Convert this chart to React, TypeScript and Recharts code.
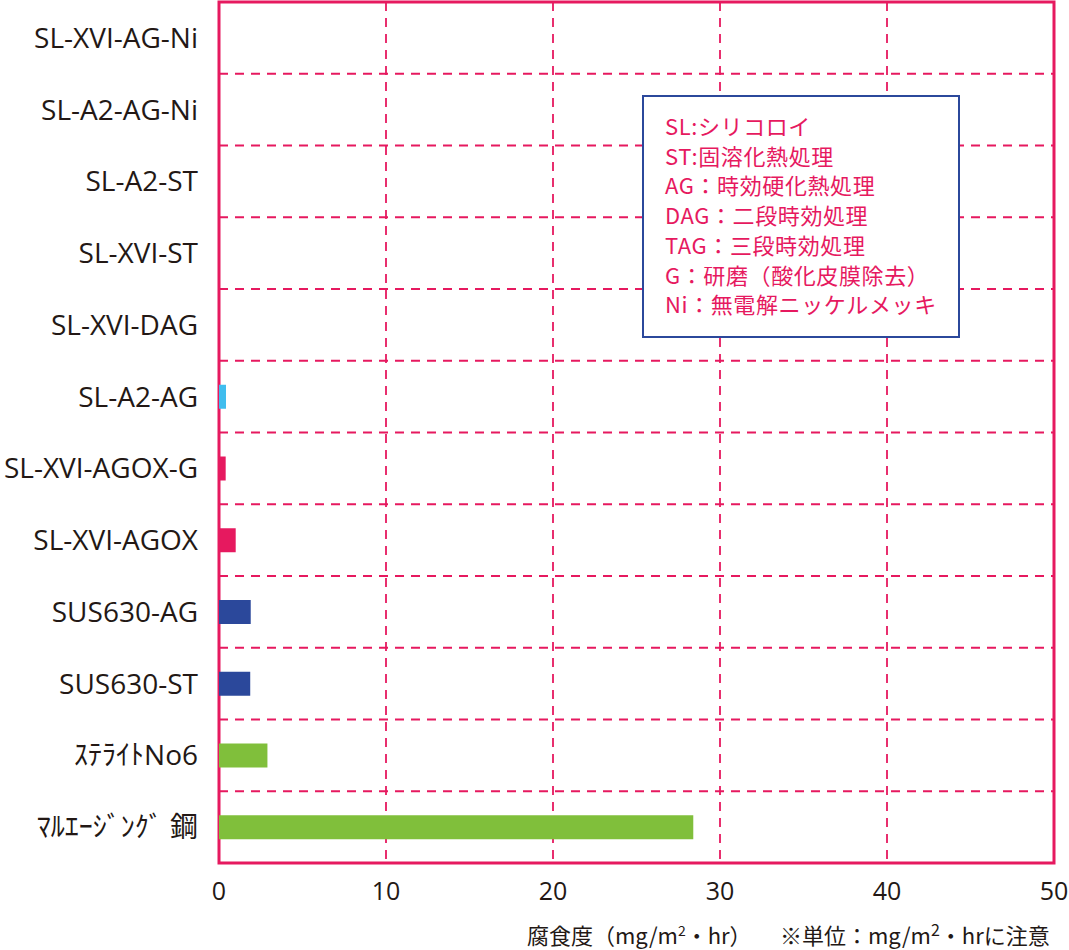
import React from 'react';
import { BarChart, Bar, XAxis, YAxis, CartesianGrid, Cell, ReferenceArea } from 'recharts';

const categories = [
  'SL-XVI-AG-Ni',
  'SL-A2-AG-Ni',
  'SL-A2-ST',
  'SL-XVI-ST',
  'SL-XVI-DAG',
  'SL-A2-AG',
  'SL-XVI-AGOX-G',
  'SL-XVI-AGOX',
  'SUS630-AG',
  'SUS630-ST',
  'ｽﾃﾗｲﾄNo6',
  'ﾏﾙｴｰｼﾞﾝｸﾞ 鋼',
];
const corrosion = [0, 0, 0, 0, 0, 0.42, 0.4, 1.0, 1.9, 1.87, 2.9, 28.4];
const xTicks = [0, 10, 20, 30, 40, 50];
const notes = [
  'SL:シリコロイ',
  'ST:固溶化熱処理',
  'AG：時効硬化熱処理',
  'DAG：二段時効処理',
  'TAG：三段時効処理',
  'G：研磨（酸化皮膜除去）',
  'Ni：無電解ニッケルメッキ',
];

const PINK = '#e6195f';
const NAVY = '#2b489b';
const TEXT = '#231815';
const barColors = [NAVY, NAVY, NAVY, NAVY, NAVY, '#40bdee', PINK, PINK, NAVY, NAVY, '#80bf3b', '#80bf3b'];

const data = categories.map((name, i) => ({ name, value: corrosion[i] }));

const FONT = '"Open Sans", "Noto Sans CJK JP", sans-serif';
const JP = '"Noto Sans CJK JP", sans-serif';

const App: React.FC = () => {
  return (
    <div style={{ position: 'relative', width: 1069, height: 950, fontFamily: FONT }}>
      <style>{'body{margin:0}'}</style>
      <BarChart
        width={1069}
        height={950}
        data={data}
        layout="vertical"
        margin={{ top: 2, right: 15, bottom: 0, left: 0 }}
        barSize={24}
      >
        <CartesianGrid
          stroke={PINK}
          strokeWidth={1.8}
          strokeDasharray="9 7"
          horizontalCoordinatesGenerator={({ offset }: any) =>
            categories.map((_, i) => offset.top + ((i + 1) * offset.height) / categories.length)
          }
        />
        <XAxis
          type="number"
          domain={[0, 50]}
          ticks={xTicks}
          height={87}
          tickSize={0}
          tickMargin={19}
          axisLine={false}
          tick={{ fill: TEXT, fontSize: 25, fontFamily: FONT }}
        />
        <YAxis
          type="category"
          dataKey="name"
          width={219}
          tickSize={0}
          tickMargin={21}
          axisLine={false}
          tick={{ fill: TEXT, fontSize: 28, fontFamily: FONT }}
          interval={0}
        />
        <Bar dataKey="value" isAnimationActive={false}>
          {data.map((d, i) => (
            <Cell key={d.name} fill={barColors[i]} />
          ))}
        </Bar>
        {/* plot frame */}
        <ReferenceArea x1={0} x2={50} fill="none" stroke={PINK} strokeWidth={3} ifOverflow="visible" />
      </BarChart>

      <div
        style={{
          position: 'absolute',
          left: 642,
          top: 95,
          width: 318,
          height: 243,
          boxSizing: 'border-box',
          border: `2px solid ${NAVY}`,
          background: '#fff',
          padding: '14px 0 0 21px',
          color: PINK,
          fontSize: 22,
          letterSpacing: '0.6px',
          lineHeight: '29.7px',
          fontFamily: JP,
          whiteSpace: 'nowrap',
        }}
      >
        {notes.map((n) => (
          <div key={n}>{n}</div>
        ))}
      </div>

      <div
        style={{
          position: 'absolute',
          left: 527,
          top: 920,
          color: TEXT,
          fontSize: 22,
          lineHeight: '28px',
          fontFamily: JP,
          whiteSpace: 'nowrap',
        }}
      >
        腐食度（mg/m<sup style={{ fontSize: 14, lineHeight: 0 }}>2</sup>・hr）
      </div>
      <div
        style={{
          position: 'absolute',
          left: 780,
          top: 920,
          color: TEXT,
          fontSize: 22,
          lineHeight: '28px',
          fontFamily: JP,
          whiteSpace: 'nowrap',
        }}
      >
        ※単位：mg/m<sup style={{ fontSize: 16, lineHeight: 0 }}>2</sup>・hrに注意
      </div>
    </div>
  );
};

export default App;
